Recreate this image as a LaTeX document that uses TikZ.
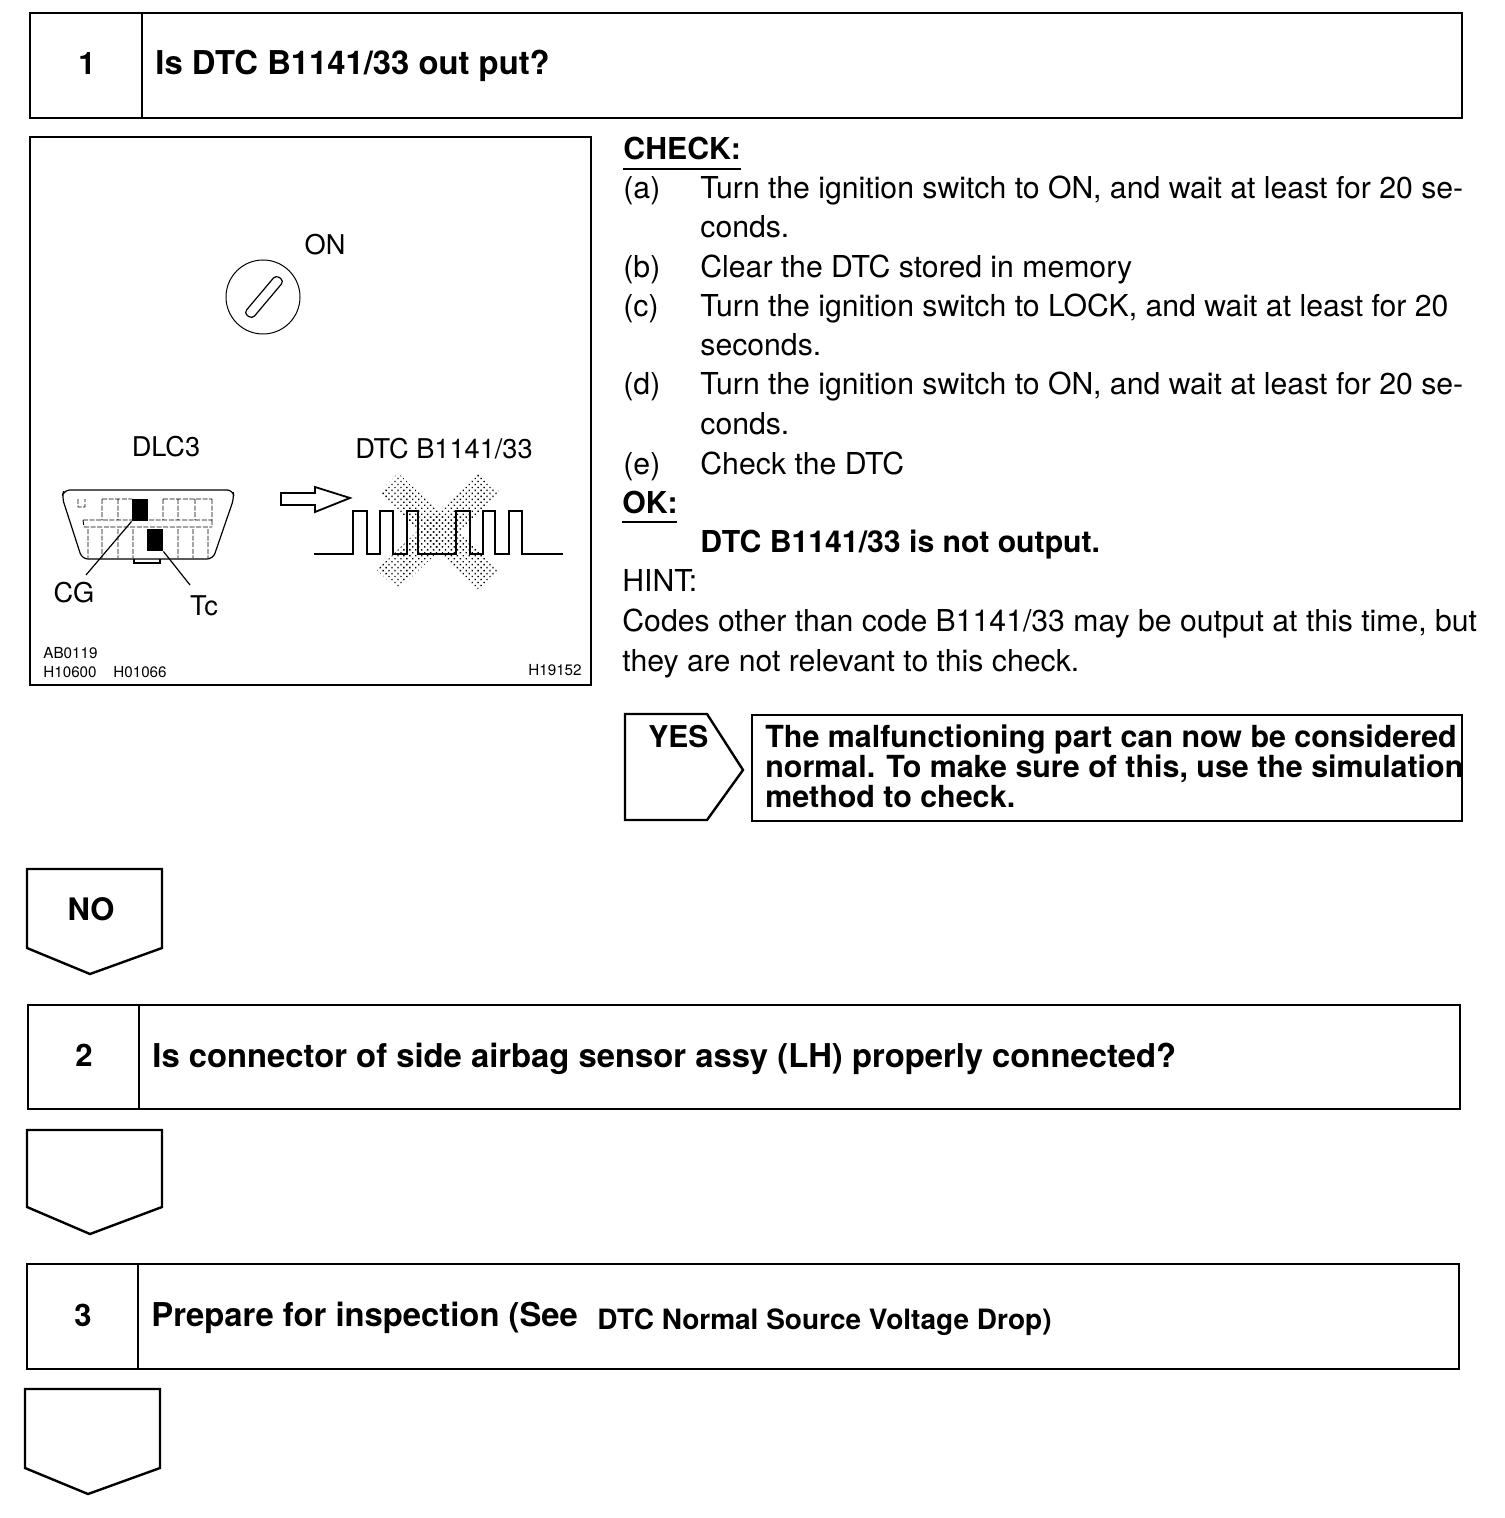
\documentclass[tikz,border=0pt]{standalone}
\usepackage{fontspec}
\setmainfont{TeX Gyre Heros}
\usetikzlibrary{patterns.meta}
\tikzset{
  framebox/.style={draw=black, line width=1.2pt, inner sep=0pt, anchor=north west},
  flowline/.style={draw=black, line width=1.2pt, line join=miter},
  fineline/.style={draw=black, line width=.6pt},
  pinline/.style={draw=black, line width=.45pt, dash pattern=on 2.5pt off .8pt},
  numtext/.style={font=\fontsize{15.5}{16}\selectfont\bfseries},
  headtext/.style={anchor=base west, inner sep=0pt, font=\fontsize{16.4}{18}\selectfont\bfseries},
  bodytext/.style={anchor=base west, inner sep=0pt, font=\fontsize{15.1}{18}\selectfont},
  boldtext/.style={anchor=base west, inner sep=0pt, font=\fontsize{15.1}{18}\selectfont\bfseries},
  answertext/.style={anchor=base west, inner sep=0pt, font=\fontsize{15.2}{18}\selectfont\bfseries},
  figtext/.style={inner sep=0pt, font=\fontsize{13.6}{16}\selectfont},
  tinytext/.style={anchor=base west, inner sep=0pt, font=\fontsize{7.6}{9}\selectfont},
  pinbox/.style={fill=black, inner sep=0pt, minimum width=8pt, minimum height=11pt},
  crossbar/.style={pattern={Dots[distance=2.1pt, radius=.48pt, angle=45]}, pattern color=black},
}
\begin{document}
\begin{tikzpicture}[x=.5pt, y=-.5pt]
\useasboundingbox (0,0) rectangle (1504,1518);

% step 1
\node[framebox, minimum width=713pt+3pt, minimum height=52.5pt] (step1) at (29,12) {};
\coordinate (div1a) at (142,12);
\coordinate (div1b) at (142,117);
\draw[flowline] (div1a) -- (div1b);
\node[numtext] (num1) at (87,64) {1};
\node[headtext] (head1) at (155,75) {Is DTC B1141/33 out put?};

% picture frame, key switch
\node[framebox, minimum width=280.5pt, minimum height=274pt] (figbox) at (29,136) {};
\node[figtext] (onlabel) at (325,245) {ON};
\node[draw=black, line width=.5pt, circle, minimum size=37pt, inner sep=0pt] (keydial) at (263,297) {};
\draw[fineline, rounded corners=2pt] (244,313) -- (252,319) -- (284,281) -- (276,275) -- cycle;

% connector DLC3. Pin rows are only suggested, as in the scan.
\node[figtext] (dlclabel) at (166,447) {DLC3};
\draw[fineline, rounded corners=3pt] (64,490) -- (233,490) -- (234,498) -- (213,559)
  -- (82,559) -- (62,497) -- cycle;
\draw[fineline] (134,559) -- (134,563) -- (160,563) -- (160,559);
\draw[pinline] (78,499) -- (78,507) -- (85,507) -- (85,499)
  (102,499) -- (132,499) (163,499) -- (212,499)
  (102,499) -- (102,520) (118,499) -- (118,520) (163,499) -- (163,520)
  (178,499) -- (178,520) (195,499) -- (195,520) (212,499) -- (212,520)
  (83,520) -- (212,520) (83,520) -- (84,527) (84,527) -- (212,527) (212,520) -- (212,527)
  (88,529) -- (88,558) (102,529) -- (102,558) (118,529) -- (118,558) (133,529) -- (133,558)
  (178,529) -- (178,558) (193,529) -- (193,558) (208,529) -- (208,558);
\node[pinbox] (pincg) at (140,510) {};
\node[pinbox] (pintc) at (155,540) {};
\node[figtext] (cglabel) at (74,593) {CG};
\node[figtext] (tclabel) at (204,606) {Tc};
\coordinate (cgend) at (86,575);
\coordinate (tcend) at (190,585);
\draw[fineline] (pincg.south west) -- (cgend);
\draw[fineline] (pintc.south east) -- (tcend);

% hollow arrow and the crossed out pulse train
\draw[fineline, line width=.9pt] (281,493) -- (315,493) -- (315,487) -- (350,498)
  -- (315,512) -- (315,505) -- (281,505) -- cycle;
\node[figtext] (dtclabel) at (444,449) {DTC B1141/33};
\fill[crossbar] (398,473) -- (380,492) -- (477,590) -- (500,570) -- cycle;
\fill[crossbar] (477,473) -- (500,492) -- (398,590) -- (377,570) -- cycle;
\draw[fineline, line width=.8pt] (314,554) -- (353,554) -- (353,511) -- (367,511) -- (367,554)
  -- (380,554) -- (380,511) -- (393,511) -- (393,554) -- (407,554) -- (407,511)
  -- (418,511) -- (418,554) -- (456,554) -- (456,511) -- (470,511) -- (470,554)
  -- (483,554) -- (483,511) -- (495,511) -- (495,554) -- (509,554) -- (509,511)
  -- (522,511) -- (522,554) -- (563,554);

\node[tinytext] (code1) at (43,658) {AB0119};
\node[tinytext] (code2) at (43,677) {H10600};
\node[tinytext] (code3) at (113,677) {H01066};
\node[tinytext, anchor=base east] (code4) at (582,675) {H19152};

% check list
\node[boldtext] (checkhead) at (623,160) {CHECK:};
\draw[fineline] (623,169) -- (741,169);
\node[bodytext] (itema) at (623,199) {(a)};
\node[bodytext] (linea) at (700,199) {Turn the ignition switch to ON, and wait at least for 20 se-};
\node[bodytext] (lineaa) at (700,238) {conds.};
\node[bodytext] (itemb) at (623,278) {(b)};
\node[bodytext] (lineb) at (700,278) {Clear the DTC stored in memory};
\node[bodytext] (itemc) at (623,317) {(c)};
\node[bodytext] (linec) at (700,317) {Turn the ignition switch to LOCK, and wait at least for 20};
\node[bodytext] (linecc) at (700,356) {seconds.};
\node[bodytext] (itemd) at (623,395) {(d)};
\node[bodytext] (lined) at (700,395) {Turn the ignition switch to ON, and wait at least for 20 se-};
\node[bodytext] (linedd) at (700,435) {conds.};
\node[bodytext] (iteme) at (623,474) {(e)};
\node[bodytext] (linee) at (700,474) {Check the DTC};
\node[boldtext] (okhead) at (622,513) {OK:};
\draw[fineline] (622,522) -- (677,522);
\node[boldtext] (okline) at (700,552) {DTC B1141/33 is not output.};
\node[bodytext] (hinthead) at (622,591) {HINT:};
\node[bodytext] (hinta) at (622,631) {Codes other than code B1141/33 may be output at this time, but};
\node[bodytext] (hintb) at (622,671) {they are not relevant to this check.};

% yes branch
\draw[flowline] (625,714) -- (707,714) -- (743,770) -- (707,820) -- (625,820) -- cycle;
\node[boldtext, font=\fontsize{15}{18}\selectfont\bfseries] (yeslabel) at (648,747) {YES};
\node[framebox, minimum width=355pt, minimum height=53pt] (answerbox) at (751,714) {};
\node[answertext] (answera) at (765,747) {The malfunctioning part can now be considered};
\node[answertext] (answerb) at (765,777) {normal. To make sure of this, use the simulation};
\node[answertext] (answerc) at (765,807) {method to check.};

% no branch
\draw[flowline] (27,869) -- (162,869) -- (162,948) -- (90,974) -- (27,948) -- cycle;
\node[numtext] (nolabel) at (91,909) {NO};

% step 2
\node[framebox, minimum width=716pt, minimum height=52pt] (step2) at (27,1004) {};
\coordinate (div2a) at (139,1004);
\coordinate (div2b) at (139,1108);
\draw[flowline] (div2a) -- (div2b);
\node[numtext] (num2) at (84,1055) {2};
\node[headtext] (head2) at (152,1067) {Is connector of side airbag sensor assy (LH) properly connected?};
\draw[flowline] (27,1130) -- (162,1130) -- (162,1207) -- (90,1234) -- (27,1207) -- cycle;

% step 3
\node[framebox, minimum width=716pt, minimum height=52.5pt] (step3) at (26,1263) {};
\coordinate (div3a) at (138,1263);
\coordinate (div3b) at (138,1368);
\draw[flowline] (div3a) -- (div3b);
\node[numtext] (num3) at (83,1315) {3};
\node[headtext] (head3) at (151,1326) {Prepare for inspection (See};
\node[answertext, font=\fontsize{14}{16}\selectfont\bfseries] (head3b) at (597,1329) {DTC Normal Source Voltage Drop)};
\draw[flowline] (25,1389) -- (160,1389) -- (160,1468) -- (88,1494) -- (25,1468) -- cycle;
\end{tikzpicture}
\end{document}
